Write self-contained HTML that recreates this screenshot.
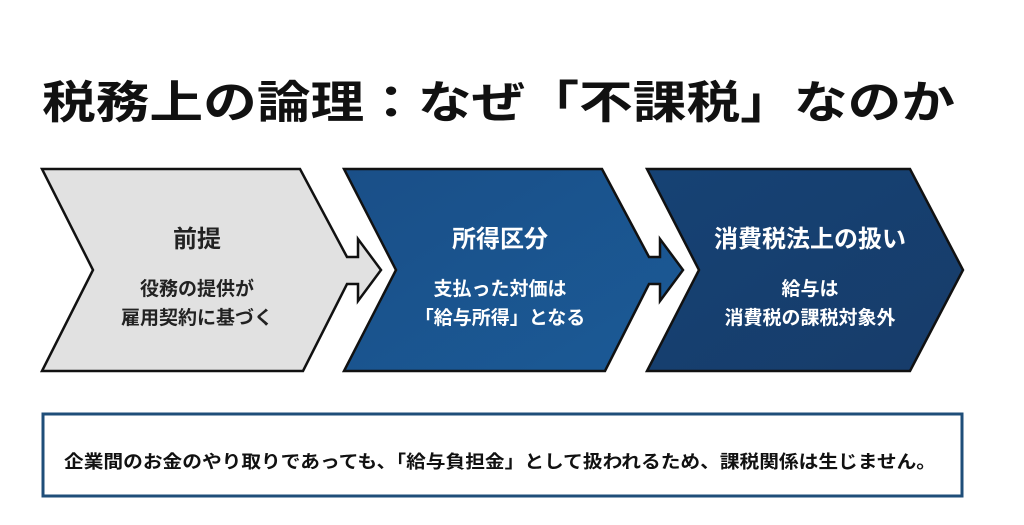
<!DOCTYPE html>
<html><head><meta charset="utf-8"><style>
body{margin:0;width:1024px;height:525px;background:#fff;overflow:hidden;font-family:"Liberation Sans","Noto Sans CJK JP",sans-serif;}
</style></head><body>
<svg width="1024" height="525" xmlns="http://www.w3.org/2000/svg" style="position:absolute;left:0;top:0">
<defs>
<linearGradient id="g2" x1="0" y1="0" x2="1" y2="1"><stop offset="0" stop-color="#1a4f88"/><stop offset="1" stop-color="#1b5a96"/></linearGradient>
<linearGradient id="g3" x1="0" y1="0" x2="1" y2="1"><stop offset="0" stop-color="#164274"/><stop offset="1" stop-color="#173c6a"/></linearGradient>
</defs>
<text x="42" y="118" font-size="45" font-weight="bold" fill="#111" font-family="Liberation Sans,Noto Sans CJK JP,sans-serif" textLength="913" lengthAdjust="spacingAndGlyphs">税務上の論理：なぜ「不課税」なのか</text>
<polygon points="42,169 300,169 347,257 358,257 358,239 381,270 358,301 358,284 347,284 303,371 42,371 93,270" fill="#e1e1e1" stroke="#111" stroke-width="2.5" stroke-linejoin="miter"/>
<polygon points="344,169 602,169 649,257 660,257 660,239 683,270 660,301 660,284 649,284 605,371 344,371 396,270" fill="url(#g2)" stroke="#111" stroke-width="2.5"/>
<polygon points="647,169 910,169 963,270 910,371 647,371 699,270" fill="url(#g3)" stroke="#111" stroke-width="2.5"/>
<g font-family="Liberation Sans,Noto Sans CJK JP,sans-serif" font-weight="bold" text-anchor="middle">
<text x="197" y="247" font-size="24" fill="#222">前提</text>
<text x="197" y="295" font-size="19" fill="#222">役務の提供が</text>
<text x="197" y="324" font-size="19" fill="#222">雇用契約に基づく</text>
<text x="500" y="247" font-size="24" fill="#fff">所得区分</text>
<text x="500" y="295" font-size="19" fill="#fff">支払った対価は</text>
<text x="500" y="324" font-size="19" fill="#fff">「給与所得」となる</text>
<text x="810" y="247" font-size="24" fill="#fff">消費税法上の扱い</text>
<text x="810" y="295" font-size="19" fill="#fff">給与は</text>
<text x="810" y="324" font-size="19" fill="#fff">消費税の課税対象外</text>
</g>
<rect x="43" y="414" width="919" height="82" fill="#fff" stroke="#1f4e79" stroke-width="3"/>
<text x="64" y="468" font-size="18" font-weight="bold" fill="#111" font-family="Liberation Sans,Noto Sans CJK JP,sans-serif" textLength="872" lengthAdjust="spacingAndGlyphs">企業間のお金のやり取りであっても、「給与負担金」として扱われるため、課税関係は生じません。</text>
</svg>
</body></html>
